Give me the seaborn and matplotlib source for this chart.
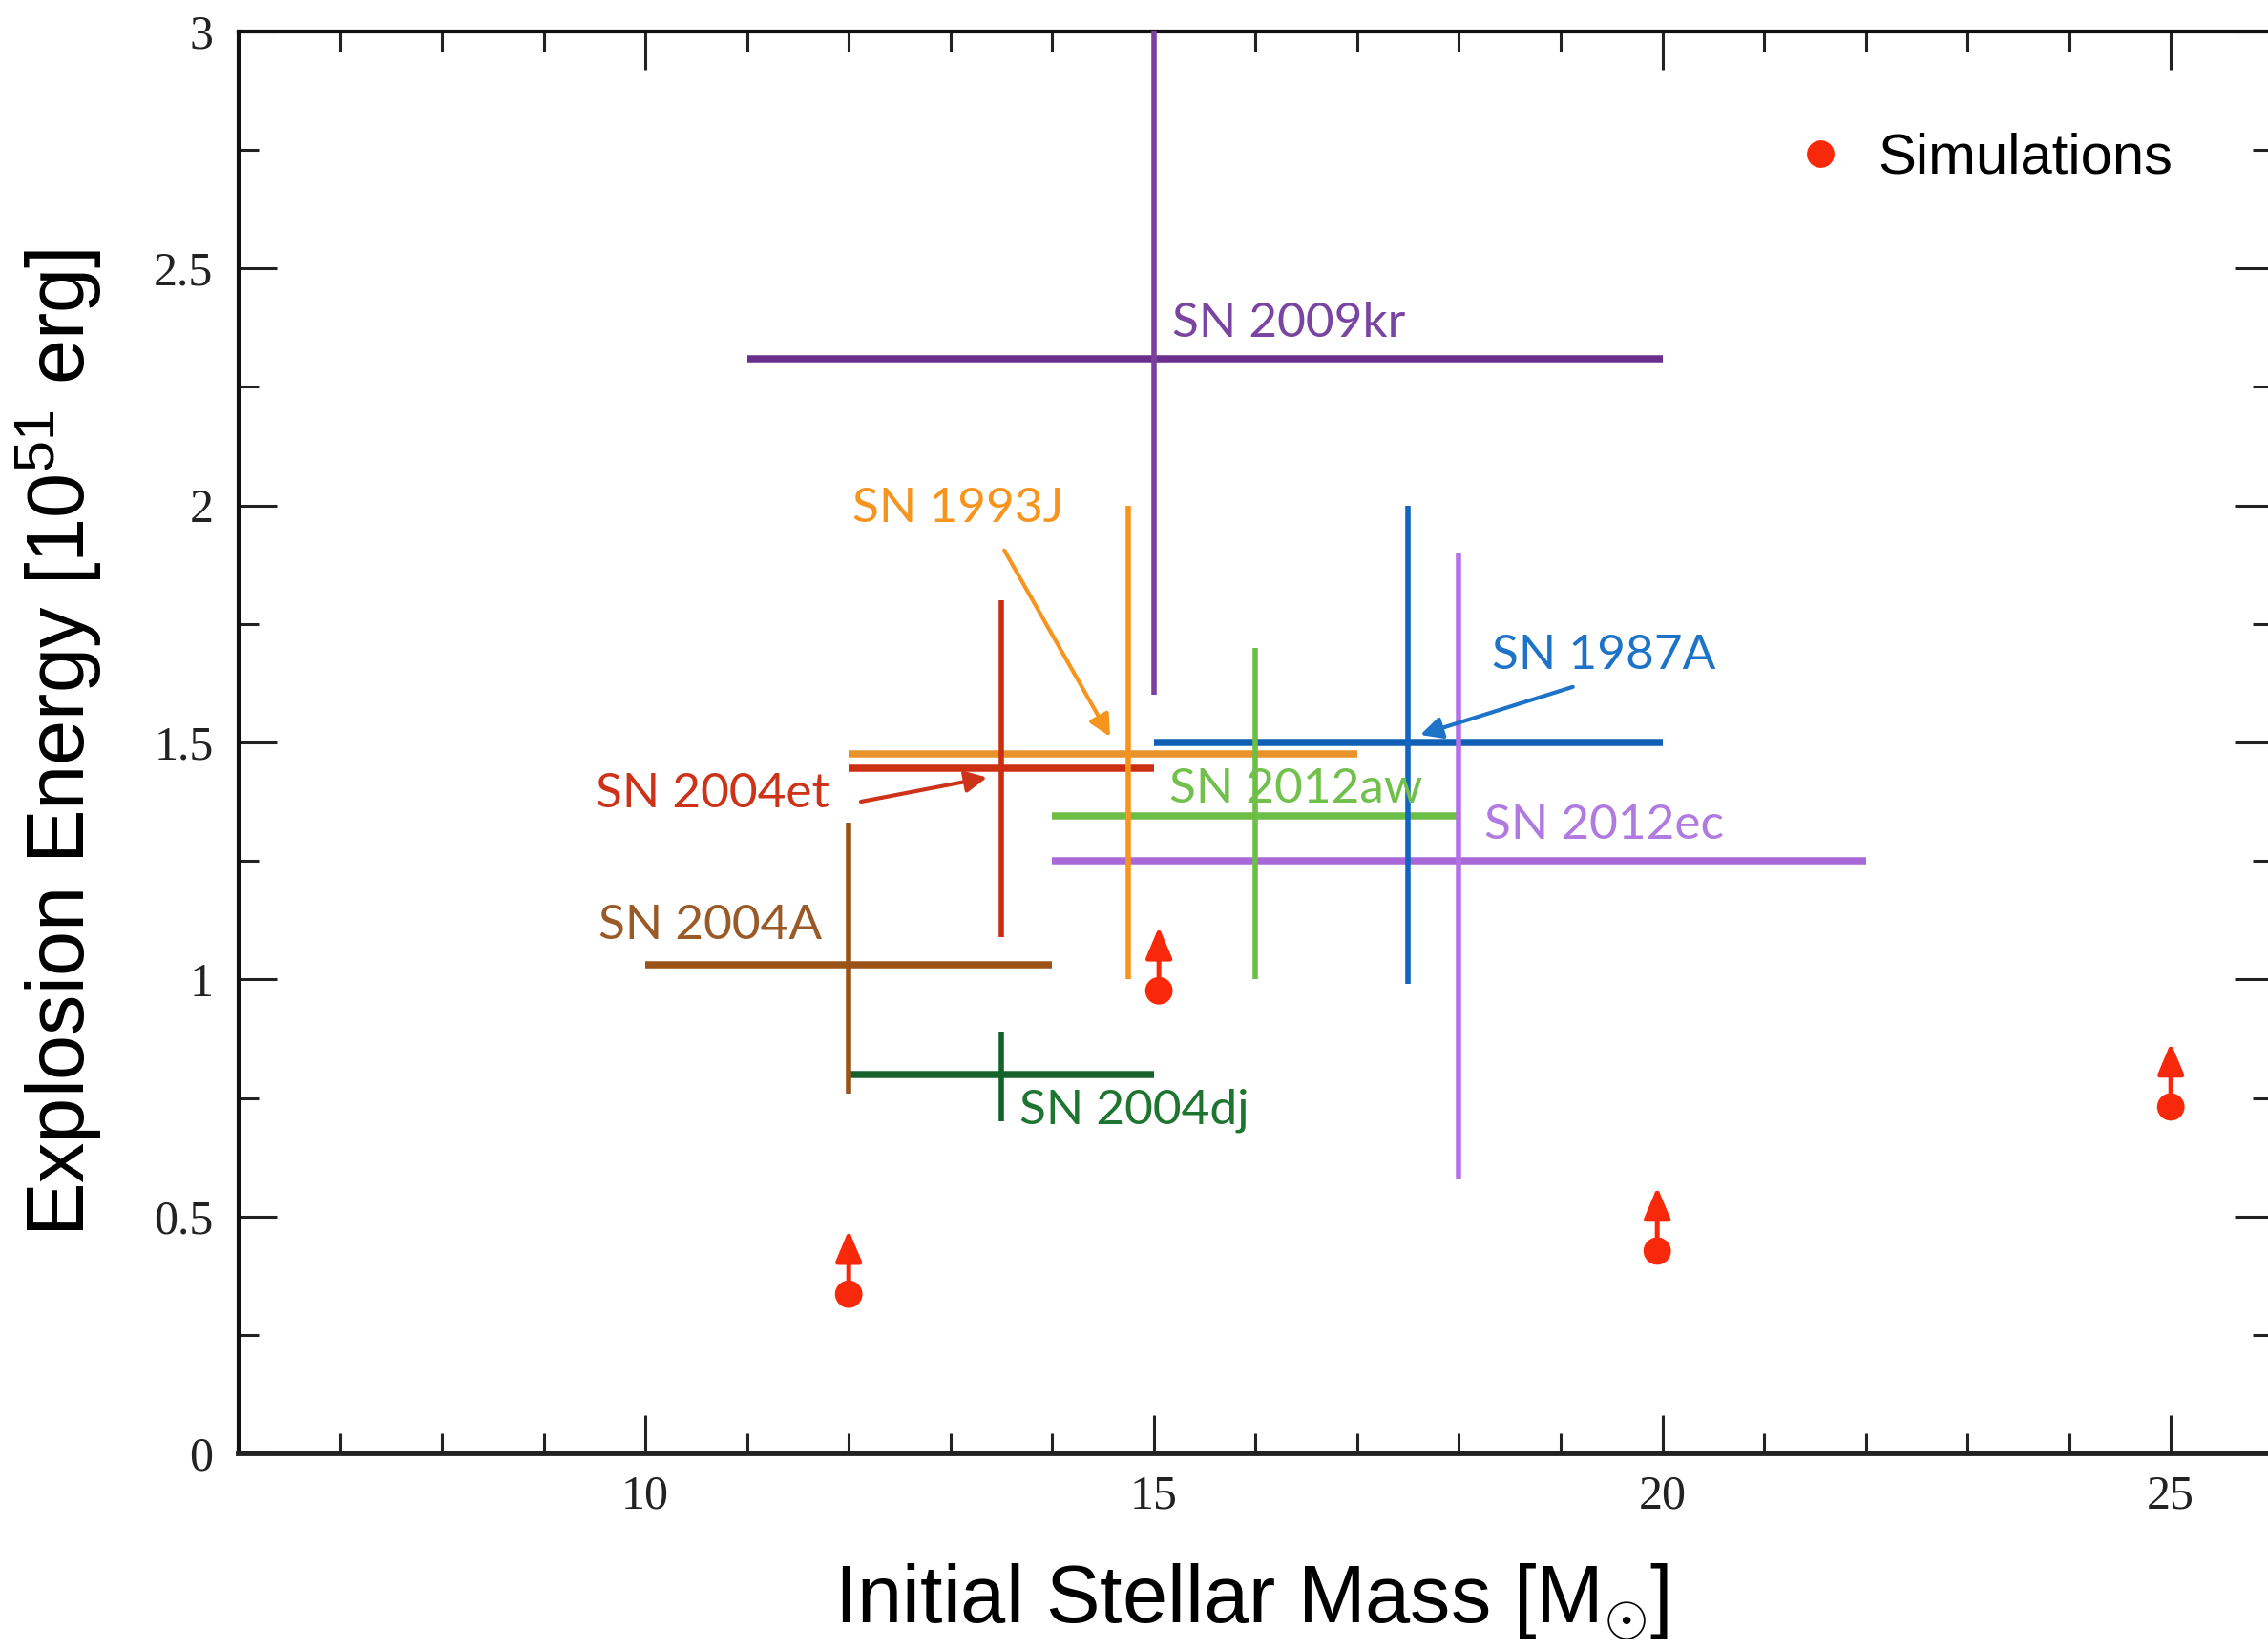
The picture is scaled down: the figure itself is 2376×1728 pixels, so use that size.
import numpy as np
import pandas as pd
import matplotlib
matplotlib.use("Agg")
import matplotlib.pyplot as plt
import seaborn as sns

# ---------------- data ----------------
sn_names = ["SN 2004A", "SN 2004dj", "SN 2004et", "SN 1993J",
            "SN 2012aw", "SN 1987A", "SN 2012ec", "SN 2009kr"]
mass = [12.0, 13.5, 13.5, 14.75, 16.0, 17.5, 18.0, 15.0]
mass_lo = [10.0, 12.0, 12.0, 12.0, 14.0, 15.0, 14.0, 11.0]
mass_hi = [14.0, 15.0, 15.0, 17.0, 18.0, 20.0, 22.0, 20.0]
energy = [1.03, 0.80, 1.445, 1.475, 1.345, 1.50, 1.25, 2.31]
energy_lo = [0.76, 0.70, 1.09, 1.00, 1.00, 0.99, 0.58, 1.60]
energy_hi = [1.33, 0.89, 1.80, 2.00, 1.70, 2.00, 1.90, 3.00]

sim_label = "Simulations"
sim_mass = [12.0, 15.05, 19.95, 25.0]
sim_energy = [0.336, 0.976, 0.427, 0.731]

x_ticks = [10, 15, 20, 25]
y_ticks = [0, 0.5, 1, 1.5, 2, 2.5, 3]

# ---------------- styles ----------------
vcol = {"SN 2004A": "#9A5216", "SN 2004dj": "#14622A", "SN 2004et": "#CC2E12",
        "SN 1993J": "#F7941D", "SN 2012aw": "#6DBE45", "SN 1987A": "#1066C0",
        "SN 2012ec": "#B472E6", "SN 2009kr": "#7B3FA0"}
hcol = {"SN 2004A": "#9A5216", "SN 2004dj": "#14622A", "SN 2004et": "#CC2E12",
        "SN 1993J": "#E8922A", "SN 2012aw": "#6DBE45", "SN 1987A": "#0F60B5",
        "SN 2012ec": "#A868D8", "SN 2009kr": "#6A2E8C"}
tcol = {"SN 2004A": "#9A5A28", "SN 2004dj": "#1E7530", "SN 2004et": "#CC3318",
        "SN 1993J": "#F7941D", "SN 2012aw": "#71C04B", "SN 1987A": "#1C73C8",
        "SN 2012ec": "#B07AE0", "SN 2009kr": "#7A45A0"}
# label placement (left x, center y) in data coords
label_pos = {"SN 2009kr": (15.18, 2.383), "SN 1993J": (12.04, 1.993),
             "SN 2004et": (9.51, 1.392), "SN 2004A": (9.54, 1.114),
             "SN 2004dj": (13.68, 0.723), "SN 1987A": (18.32, 1.684),
             "SN 2012aw": (15.15, 1.402), "SN 2012ec": (18.25, 1.325)}
label_arrows = {"SN 1993J": ((13.53, 1.905), (14.57, 1.512)),
                "SN 2004et": ((12.12, 1.375), (13.36, 1.426)),
                "SN 1987A": ((19.12, 1.617), (17.62, 1.516))}
sim_color = "#F8280A"

sns.set_theme(style="ticks")
plt.rcParams["font.family"] = ["Liberation Sans", "DejaVu Sans"]
plt.rcParams["mathtext.fontset"] = "custom"
plt.rcParams["mathtext.rm"] = "Liberation Sans"
plt.rcParams["mathtext.it"] = "Liberation Sans:italic"

fig = plt.figure(figsize=(23.76, 17.28), dpi=100)
ax = fig.add_axes([0.1052, 0.1186, 0.8968, 0.8624])

df = pd.DataFrame({"name": sn_names, "mass": mass, "mass_lo": mass_lo,
                   "mass_hi": mass_hi, "energy": energy,
                   "energy_lo": energy_lo, "energy_hi": energy_hi})

for _, r in df.iterrows():
    ax.hlines(r["energy"], r["mass_lo"], r["mass_hi"], colors=hcol[r["name"]],
              lw=5.4, capstyle="butt", zorder=2)
    ax.vlines(r["mass"], r["energy_lo"], r["energy_hi"], colors=vcol[r["name"]],
              lw=4.0, capstyle="butt", zorder=3)
    lx, ly = label_pos[r["name"]]
    ax.text(lx, ly, r["name"], color=tcol[r["name"]], fontsize=37,
            family=["Lato", "DejaVu Sans"], ha="left", va="center", zorder=4)
    if r["name"] in label_arrows:
        (x0, y0), (x1, y1) = label_arrows[r["name"]]
        ax.annotate("", xy=(x1, y1), xytext=(x0, y0),
                    arrowprops=dict(arrowstyle="-|>", color=tcol[r["name"]],
                                    lw=3.0, mutation_scale=34,
                                    shrinkA=0, shrinkB=0), zorder=5)

sim_df = pd.DataFrame({"mass": sim_mass, "energy": sim_energy,
                       "kind": [sim_label] * len(sim_mass)})
sns.scatterplot(data=sim_df, x="mass", y="energy", hue="kind",
                palette=[sim_color], s=430, linewidth=0, ax=ax, zorder=6)
for xm, ye in zip(sim_mass, sim_energy):
    ax.annotate("", xy=(xm, ye + 0.135), xytext=(xm, ye),
                arrowprops=dict(arrowstyle="-|>,head_length=0.45,head_width=0.19",
                                color=sim_color, lw=3.6,
                                mutation_scale=44, shrinkA=0, shrinkB=0),
                zorder=6)

ax.set_xlim(6, 26)
ax.set_ylim(0, 3)
ax.set_xticks(x_ticks)
ax.set_xticks(np.arange(7, 26, 1), minor=True)
ax.set_yticks(y_ticks)
ax.set_yticks(np.arange(0.25, 3.0, 0.5), minor=True)
ax.set_yticklabels([f"{v:g}" for v in y_ticks])
ax.set_xticklabels([f"{v:g}" for v in x_ticks])

ax.tick_params(which="both", direction="in", top=True, right=True,
               colors="#222222", width=2.2)
ax.tick_params(which="major", length=29)
ax.tick_params(which="minor", length=15)
ax.tick_params(axis="y", which="major", pad=19)
ax.tick_params(axis="x", which="major", pad=16)
for lab in ax.get_xticklabels() + ax.get_yticklabels():
    lab.set_family(["Liberation Serif", "DejaVu Serif"])
    lab.set_fontsize(36)
    lab.set_color("#222222")

for s in ["left", "top", "right"]:
    ax.spines[s].set_linewidth(3.0)
    ax.spines[s].set_color("#111111")
ax.spines["bottom"].set_linewidth(4.2)
ax.spines["bottom"].set_color("#222222")

ax.set_xlabel(r"Initial Stellar Mass [M$_{\odot}$]", fontsize=61, color="black")
ax.set_ylabel(r"Explosion Energy [10$^{51}$ erg]", fontsize=61, color="black")
ax.xaxis.set_label_coords(0.498, -0.076)
ax.yaxis.set_label_coords(-0.066, 0.5)

leg = ax.legend(loc="upper right", bbox_to_anchor=(0.962, 0.945),
                frameon=False, fontsize=43, handlelength=1.4,
                handletextpad=0.3, borderaxespad=0)
for t in leg.get_texts():
    t.set_color("black")
for h in leg.legend_handles:
    if hasattr(h, "set_markersize"):
        h.set_markersize(np.sqrt(430))
        h.set_color("#E8221A")
    elif hasattr(h, "set_sizes"):
        h.set_sizes([430])

fig.savefig("out.png", dpi=100)
